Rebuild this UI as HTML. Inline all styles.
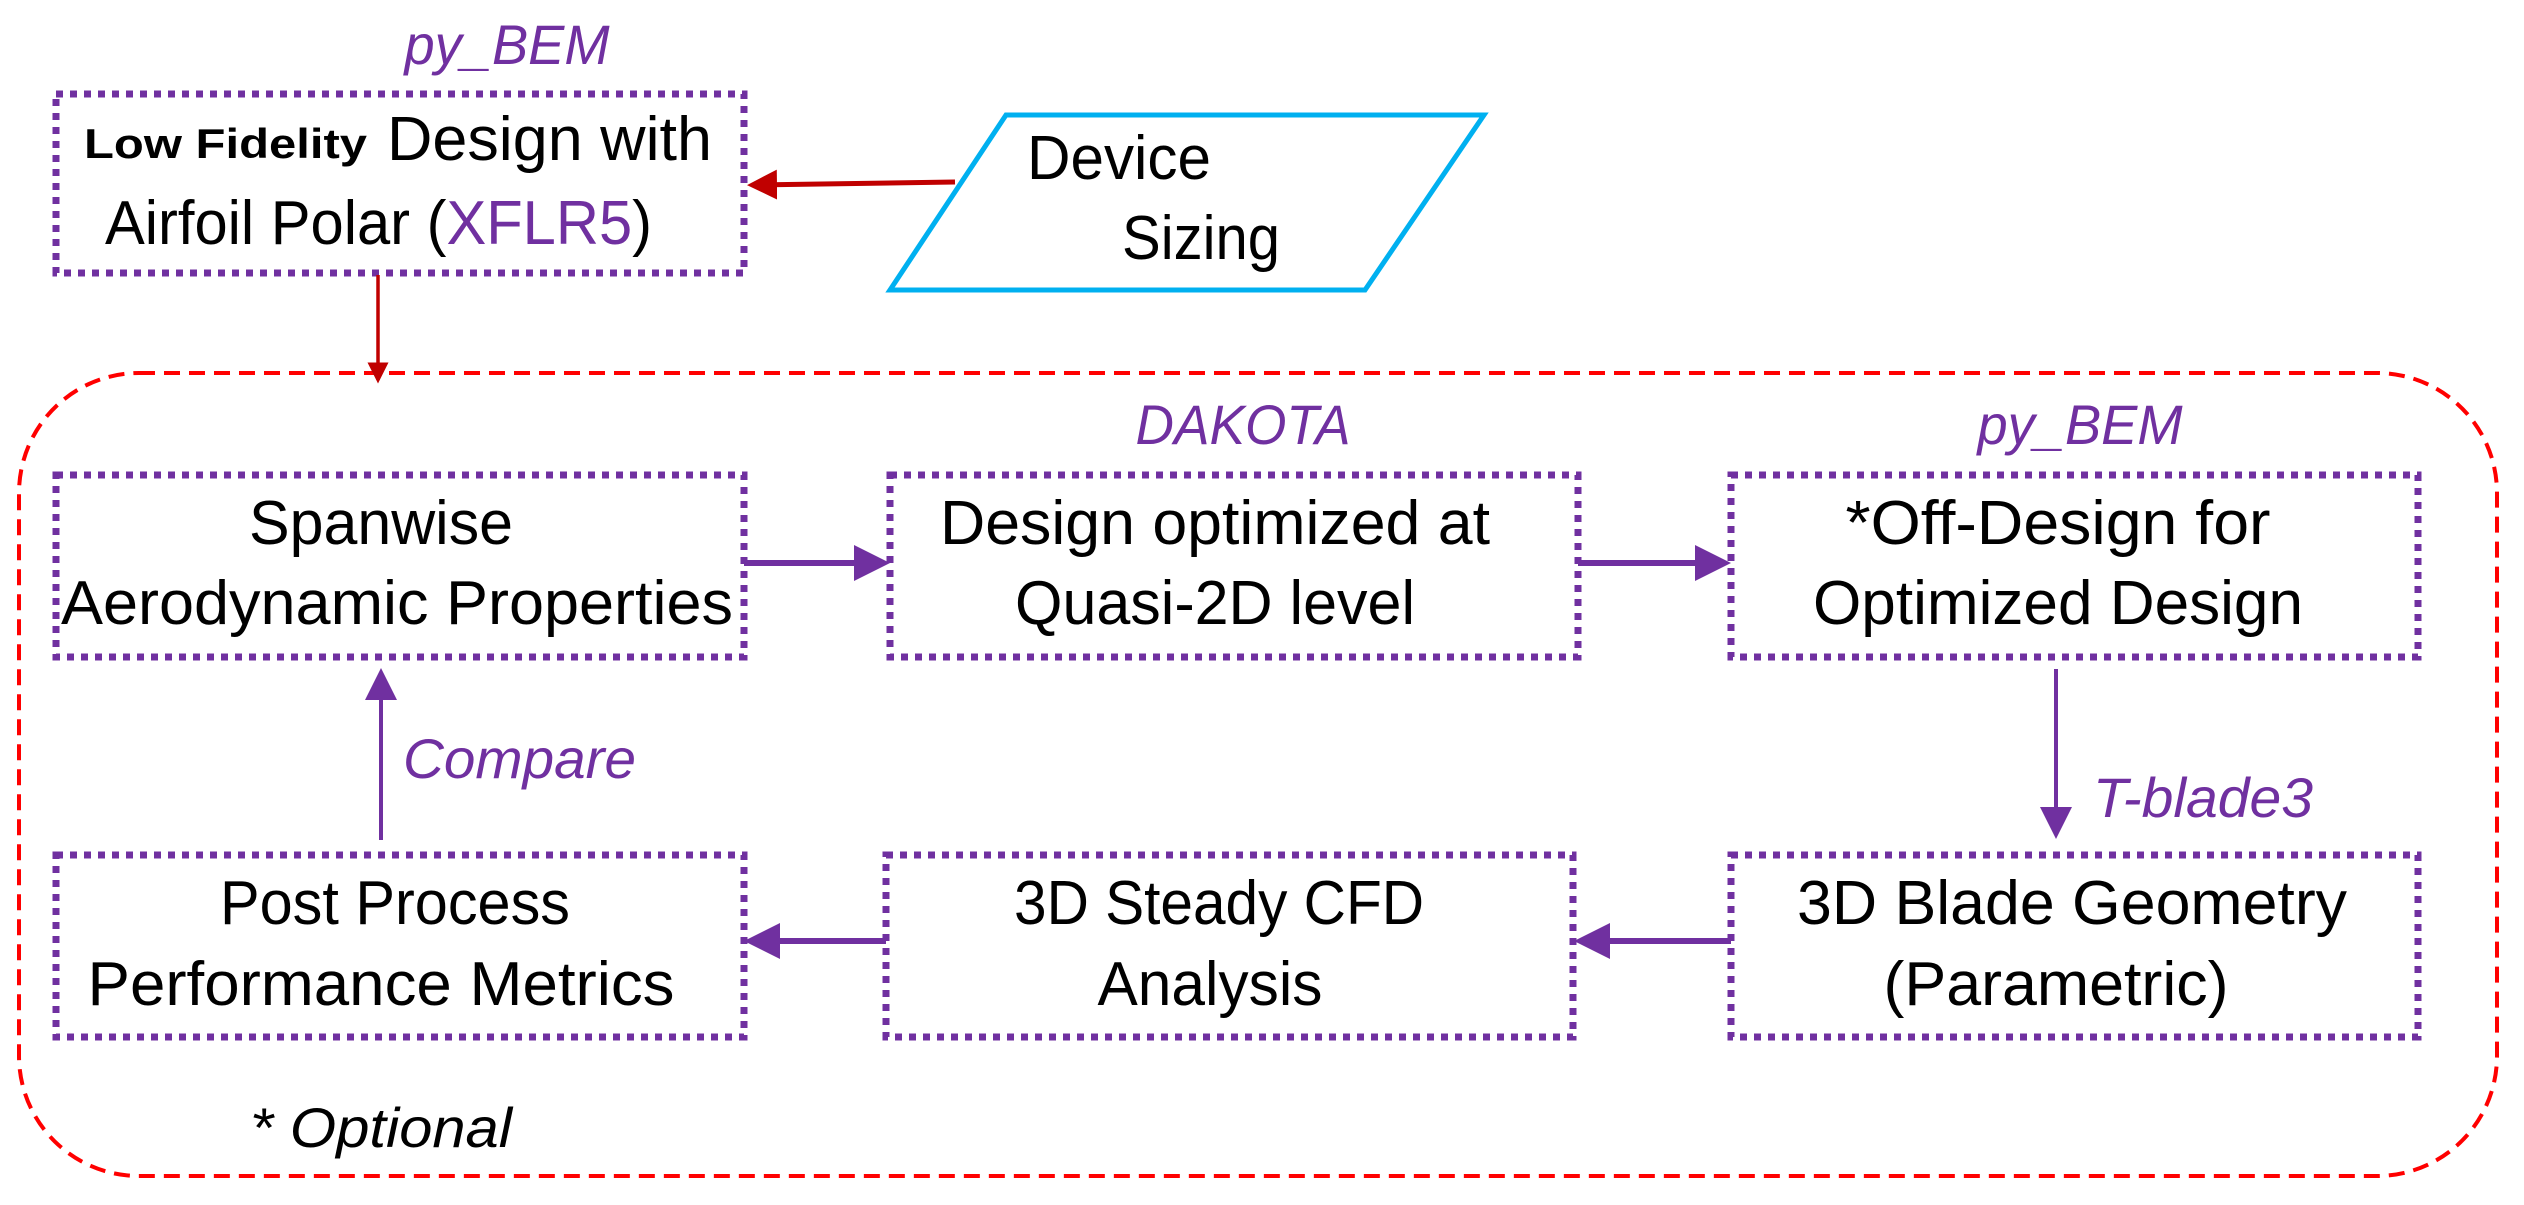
<!DOCTYPE html>
<html><head><meta charset="utf-8"><style>
html,body{margin:0;padding:0;background:#fff;}
svg{display:block;}
text{font-family:"Liberation Sans",sans-serif;}
</style></head><body>
<svg width="2524" height="1205" viewBox="0 0 2524 1205" xmlns="http://www.w3.org/2000/svg">
<defs>
<marker id="ar" markerWidth="6" markerHeight="6" refX="5" refY="3" orient="auto" markerUnits="strokeWidth"><path d="M0,0 L6,3 L0,6 z" fill="#c00000"/></marker>
<marker id="ap" markerWidth="6" markerHeight="6" refX="5" refY="3" orient="auto" markerUnits="strokeWidth"><path d="M0,0 L6,3 L0,6 z" fill="#7030a0"/></marker>
<marker id="ap2" markerWidth="8" markerHeight="8" refX="7" refY="4" orient="auto" markerUnits="strokeWidth"><path d="M0,0 L8,4 L0,8 z" fill="#7030a0"/></marker>
</defs>
<g fill="none" stroke="#7030a0" stroke-width="7" stroke-dasharray="7 7">
<rect x="56" y="94" width="688" height="179"/>
<rect x="56" y="475" width="688" height="182"/>
<rect x="890" y="475" width="688" height="182"/>
<rect x="1731" y="475" width="687" height="182"/>
<rect x="56" y="855" width="688" height="182"/>
<rect x="886" y="855" width="687" height="182"/>
<rect x="1731" y="855" width="687" height="182"/>
</g>
<rect x="19" y="373" width="2478" height="803" rx="120" ry="120" fill="none" stroke="#ff0000" stroke-width="4" stroke-dasharray="16 9"/>
<polygon points="1006,115 1484,115 1365,290 890,290" fill="none" stroke="#00b0f0" stroke-width="5"/>
<line x1="955" y1="182" x2="752" y2="185" stroke="#c00000" stroke-width="5" marker-end="url(#ar)"/>
<line x1="378" y1="275" x2="378" y2="380" stroke="#c00000" stroke-width="3.5" marker-end="url(#ar)"/>
<g stroke="#7030a0" fill="none">
<line x1="744" y1="563" x2="884" y2="563" stroke-width="6" marker-end="url(#ap)"/>
<line x1="1578" y1="563" x2="1725" y2="563" stroke-width="6" marker-end="url(#ap)"/>
<line x1="2056" y1="669" x2="2056" y2="835" stroke-width="4" marker-end="url(#ap2)"/>
<line x1="1731" y1="941" x2="1580" y2="941" stroke-width="6" marker-end="url(#ap)"/>
<line x1="886" y1="941" x2="750" y2="941" stroke-width="6" marker-end="url(#ap)"/>
<line x1="381" y1="840" x2="381" y2="672" stroke-width="4" marker-end="url(#ap2)"/>
</g>
<g fill="#7030a0" font-style="italic" font-size="56">
<text x="507" y="64" text-anchor="middle" textLength="205" lengthAdjust="spacingAndGlyphs">py_BEM</text>
<text x="1243" y="444" text-anchor="middle" textLength="215" lengthAdjust="spacingAndGlyphs">DAKOTA</text>
<text x="2080" y="444" text-anchor="middle" textLength="205" lengthAdjust="spacingAndGlyphs">py_BEM</text>
<text x="2093" y="817" textLength="220" lengthAdjust="spacingAndGlyphs">T-blade3</text>
<text x="403" y="778" textLength="233" lengthAdjust="spacingAndGlyphs">Compare</text>
</g>
<text x="250" y="1147" font-style="italic" font-size="56" textLength="262" lengthAdjust="spacingAndGlyphs">* Optional</text>
<g font-size="62" fill="#000">
<text x="84" y="158" font-weight="bold" font-size="42" textLength="283" lengthAdjust="spacingAndGlyphs">Low Fidelity</text>
<text x="387" y="160" textLength="325" lengthAdjust="spacingAndGlyphs">Design with</text>
<text x="105" y="244" textLength="547" lengthAdjust="spacingAndGlyphs">Airfoil Polar (<tspan fill="#7030a0">XFLR5</tspan>)</text>
<text x="1027" y="179" textLength="184" lengthAdjust="spacingAndGlyphs">Device</text>
<text x="1122" y="259" textLength="158" lengthAdjust="spacingAndGlyphs">Sizing</text>
<text x="381" y="544" text-anchor="middle" textLength="264" lengthAdjust="spacingAndGlyphs">Spanwise</text>
<text x="397" y="624" text-anchor="middle" textLength="672" lengthAdjust="spacingAndGlyphs">Aerodynamic Properties</text>
<text x="1215" y="544" text-anchor="middle" textLength="550" lengthAdjust="spacingAndGlyphs">Design optimized at</text>
<text x="1215" y="624" text-anchor="middle" textLength="400" lengthAdjust="spacingAndGlyphs">Quasi-2D level</text>
<text x="2058" y="544" text-anchor="middle" textLength="425" lengthAdjust="spacingAndGlyphs">*Off-Design for</text>
<text x="2058" y="624" text-anchor="middle" textLength="490" lengthAdjust="spacingAndGlyphs">Optimized Design</text>
<text x="395" y="924" text-anchor="middle" textLength="350" lengthAdjust="spacingAndGlyphs">Post Process</text>
<text x="381" y="1005" text-anchor="middle" textLength="587" lengthAdjust="spacingAndGlyphs">Performance Metrics</text>
<text x="1219" y="924" text-anchor="middle" textLength="410" lengthAdjust="spacingAndGlyphs">3D Steady CFD</text>
<text x="1210" y="1005" text-anchor="middle" textLength="225" lengthAdjust="spacingAndGlyphs">Analysis</text>
<text x="2072" y="924" text-anchor="middle" textLength="550" lengthAdjust="spacingAndGlyphs">3D Blade Geometry</text>
<text x="2056" y="1005" text-anchor="middle" textLength="345" lengthAdjust="spacingAndGlyphs">(Parametric)</text>
</g>
</svg>
</body></html>
